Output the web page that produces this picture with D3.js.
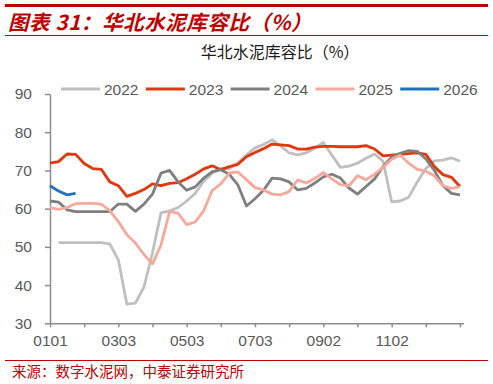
<!DOCTYPE html>
<html>
<head>
<meta charset="utf-8">
<script src="https://cdn.jsdelivr.net/npm/d3@7"></script>
<style>
  body { margin: 0; background: #fff; }
  svg { display: block; }
</style>
</head>
<body>
<svg id="chart" width="493" height="384"></svg>
<script>
// x categories: 49 weekly-ish points through the year, labels every 8th
var nPoints = 49;
var xTickLabels = ["0101", "0303", "0503", "0703", "0902", "1102"];
var yTicks = [30, 40, 50, 60, 70, 80, 90];

var seriesNames = ["2022", "2023", "2024", "2025", "2026"];
var seriesColors = ["#BFBFBF", "#E2370C", "#7F7F7F", "#F6A99B", "#1F70C1"];

var v2022 = [null, 51.1, 51.1, 51.1, 51.1, 51.1, 51.1, 50.8, 46.6, 35.0,
  35.3, 39.5, 48.5, 58.9, 59.4, 60.3, 62.0, 64.0, 67.2, 69.3,
  70.5, 70.5, 72.0, 74.0, 75.9, 76.8, 78.0, 76.4, 74.6, 74.1,
  74.6, 75.8, 77.3, 74.0, 70.8, 71.1, 71.9, 73.2, 74.3, 72.4,
  61.8, 62.0, 63.0, 67.0, 70.5, 72.5, 72.7, 73.3, 72.4];
var v2023 = [71.9, 72.3, 74.3, 74.2, 71.8, 70.5, 70.3, 67.0, 66.0, 63.2,
  64.0, 65.0, 66.5, 66.0, 66.6, 66.8, 67.8, 69.0, 70.4, 71.2,
  70.2, 71.0, 71.6, 73.6, 74.7, 75.7, 76.9, 76.7, 76.5, 75.6,
  75.6, 76.1, 76.3, 76.3, 76.2, 76.2, 76.2, 76.5, 75.6, 73.8,
  74.0, 74.2, 74.4, 74.6, 74.2, 71.0, 68.9, 68.2, 65.8];
var v2024 = [62.0, 61.7, 59.7, 59.2, 59.2, 59.2, 59.2, 59.2, 61.2, 61.2,
  59.3, 61.2, 63.8, 69.3, 70.0, 67.0, 64.8, 65.7, 68.0, 69.7,
  70.2, 69.0, 66.2, 60.7, 62.6, 64.8, 68.0, 67.8, 67.0, 64.9,
  65.3, 66.7, 68.3, 69.0, 68.0, 65.4, 63.8, 65.8, 67.8, 71.0,
  73.5, 74.5, 75.2, 75.0, 73.0, 70.0, 66.0, 64.0, 63.6];
var v2025 = [60.3, 59.8, 60.3, 61.3, 61.4, 61.4, 61.2, 59.5, 56.6, 53.2,
  51.0, 48.0, 45.6, 50.5, 59.2, 58.8, 55.8, 56.5, 59.5, 64.8,
  66.5, 69.3, 69.6, 67.6, 65.5, 64.9, 63.8, 63.6, 64.5, 67.5,
  66.7, 67.9, 69.4, 67.8, 66.3, 66.0, 68.6, 67.6, 69.0, 70.8,
  72.9, 74.0, 71.9, 70.3, 69.8, 68.6, 66.0, 65.3, 65.7];
var v2026 = [66.0, 64.6, 63.6, 64.0];

var svg = d3.select("#chart");
var red = "#C00000";

// header: thick rule, red title, thin rule
svg.append("line").attr("x1", 5).attr("x2", 488).attr("y1", 5.5).attr("y2", 5.5)
  .attr("stroke", red).attr("stroke-width", 3);
svg.append("text")
  .attr("x", 8).attr("y", 29.5)
  .attr("fill", red)
  .attr("font-family", "'Noto Sans CJK SC', sans-serif")
  .attr("font-size", 20.5)
  .attr("font-weight", "bold")
  .attr("font-style", "italic")
  .attr("letter-spacing", 0.6)
  .text("图表 31：华北水泥库容比（%）");
svg.append("line").attr("x1", 5).attr("x2", 488).attr("y1", 35.5).attr("y2", 35.5)
  .attr("stroke", red).attr("stroke-width", 1);

// chart title
svg.append("text")
  .attr("x", 280).attr("y", 58)
  .attr("text-anchor", "middle")
  .attr("fill", "#1a1a1a")
  .attr("font-family", "'Noto Sans CJK SC', sans-serif")
  .attr("font-size", 16)
  .text("华北水泥库容比（%）");

var x = d3.scaleLinear().domain([0, 48.4]).range([50, 463.4]);
var y = d3.scaleLinear().domain([30, 90]).range([323.3, 94]);

// axes
var labelAt = {};
xTickLabels.forEach(function(t, i) { labelAt[i * 8] = t; });

var xAxis = svg.append("g")
  .attr("transform", "translate(0,323.3)")
  .call(d3.axisBottom(x)
    .tickValues(d3.range(0, nPoints, 4))
    .tickSize(4).tickSizeOuter(0).tickPadding(8)
    .tickFormat(function(d) { return labelAt[d] || ""; }));

var yAxis = svg.append("g")
  .attr("transform", "translate(50,0)")
  .call(d3.axisLeft(y).tickValues(yTicks).tickSize(5).tickSizeOuter(0).tickPadding(13));

[xAxis, yAxis].forEach(function(g) {
  g.selectAll("path, line").attr("stroke", "#8C8C8C").attr("stroke-width", 1.5);
  g.selectAll("text")
    .attr("fill", "#595959")
    .attr("font-family", "'Liberation Sans', Arial, sans-serif")
    .attr("font-size", 15.5);
});

// lines
var all = [v2022, v2023, v2024, v2025, v2026];
var line = d3.line()
  .defined(function(d) { return d != null; })
  .x(function(d, i) { return x(i); })
  .y(function(d) { return y(d); });

all.forEach(function(vals, k) {
  svg.append("path")
    .datum(vals)
    .attr("fill", "none")
    .attr("stroke", seriesColors[k])
    .attr("stroke-width", 2.8)
    .attr("stroke-linejoin", "round")
    .attr("d", line);
});

// legend
var legend = svg.append("g").attr("transform", "translate(61,89)");
seriesNames.forEach(function(name, k) {
  var g = legend.append("g").attr("transform", "translate(" + (k * 84.8) + ",0)");
  g.append("line").attr("x1", 0).attr("x2", 39).attr("y1", 0).attr("y2", 0)
    .attr("stroke", seriesColors[k]).attr("stroke-width", 2.8);
  g.append("text")
    .attr("x", 43).attr("y", 5.5)
    .attr("fill", "#595959")
    .attr("font-family", "'Liberation Sans', Arial, sans-serif")
    .attr("font-size", 15.5)
    .text(name);
});

// footer
svg.append("line").attr("x1", 5).attr("x2", 488).attr("y1", 360.5).attr("y2", 360.5)
  .attr("stroke", red).attr("stroke-width", 1.2);
svg.append("text")
  .attr("x", 12).attr("y", 377)
  .attr("fill", red)
  .attr("font-family", "'Noto Sans CJK SC', sans-serif")
  .attr("font-size", 14.5)
  .text("来源：数字水泥网，中泰证券研究所");
</script>
</body>
</html>
